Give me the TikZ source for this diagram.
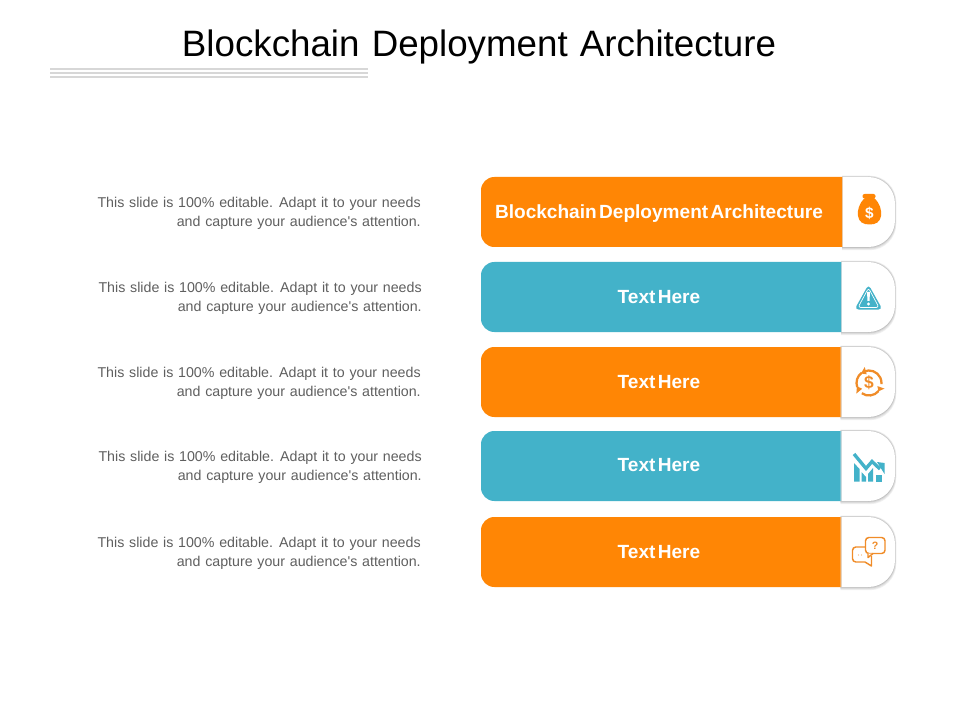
\documentclass[tikz,border=0pt]{standalone}
\usepackage{fontspec}
\setmainfont{Liberation Sans}
\newfontfamily\bodyfont{Liberation Sans}
\newfontfamily\titlefont[WordSpace=1.2]{Liberation Sans}
\newfontfamily\barfont[WordSpace=0.45]{Liberation Sans Bold}
\definecolor{barorange}{RGB}{255,134,5}
\definecolor{barteal}{RGB}{67,178,201}
\definecolor{iconorange}{RGB}{240,140,40}
\definecolor{bodygrey}{RGB}{95,95,95}
\definecolor{rulegrey}{RGB}{215,215,215}
\tikzset{
  x=0.75pt,y=-0.75pt,
  titletext/.style={font=\titlefont\fontsize{27.55pt}{32pt}\selectfont,text=black,inner sep=0pt},
  bodytext/.style={font=\bodyfont\fontsize{10.67pt}{14.25pt}\selectfont,text=bodygrey,align=right,anchor=east,inner sep=0pt},
  bartext/.style={font=\barfont\fontsize{14.3pt}{16pt}\selectfont,text=white,inner sep=0pt},
  ruleline/.style={draw=rulegrey,line width=1.6pt},
  cardshape/.style={rounded corners=20pt},
  barshape/.style={rounded corners=10pt},
}
\newcommand{\cardrow}[6]{% top, split x, colour, label, body right x, label y
  \foreach \o/\g in {3.2/6,2.4/10,1.6/16,0.8/24}{
    \fill[black!\g!white] (#2,#1-\o*0.4) [cardshape] -- (895+\o*0.4,#1-\o*0.4) -- (895+\o*0.4,#1+70+\o) [sharp corners] -- (#2,#1+70+\o) -- cycle;
  }
  \fill[white] (#2,#1) [cardshape] -- (895,#1) -- (895,#1+70) [sharp corners] -- (#2,#1+70) -- cycle;
  \fill[#3!60!black,opacity=.25] (#2,#1) rectangle (#2+1,#1+70);
  \fill[#3] (#2,#1) [barshape] -- (481,#1) -- (481,#1+70) [sharp corners] -- (#2,#1+70) -- cycle;
  \node[bartext] at (659,#6) {#4};
  \node[bodytext] at (#5,#1+36.5) {This slide is 100\% editable. Adapt it to your needs\\and capture your audience's attention.};
}
\begin{document}
\begin{tikzpicture}
\useasboundingbox (0,0) rectangle (960,720);
\fill[white] (0,0) rectangle (960,720);
\node[titletext] (title) at (479,47) {Blockchain Deployment Architecture};
\foreach \yy in {69,73,77}{\draw[ruleline] (50,\yy) -- (368,\yy);}
\cardrow{177}{842}{barorange}{Blockchain Deployment Architecture}{421}{214}
\cardrow{262}{841}{barteal}{Text Here}{422}{297}
\cardrow{347}{840.5}{barorange}{Text Here}{421}{382}
\cardrow{431}{840.5}{barteal}{Text Here}{422}{465}
\cardrow{517}{840.5}{barorange}{Text Here}{421}{552}

% money bag
\fill[barorange,rounded corners=1.5] (862.5,194) rectangle (875.5,198.5);
\fill[barorange] (865,198) .. controls (859,203) and (857,211) .. (858,216) .. controls (859,222) and (863,224.5) .. (869.5,224.5) .. controls (876,224.5) and (880,222) .. (881,216) .. controls (882,211) and (880,203) .. (874,198) -- cycle;
\node[font=\bfseries\fontsize{11.5pt}{12pt}\selectfont,text=white,inner sep=0pt] (bagsign) at (869.5,213) {\$};

% warning triangle
\fill[barteal,rounded corners=3] (868.5,284.5) -- (882.5,309.5) -- (854.5,309.5) -- cycle;
\draw[white,line width=.5pt,rounded corners=2] (868.5,288) -- (879,307.5) -- (858,307.5) -- cycle;
\fill[white] (867,292) -- (870,292) -- (869.5,301) -- (867.5,301) -- cycle;
\fill[white] (868.5,304) circle[radius=1.6];

% cycle dollar
\begin{scope}[shift={(869,383)},x=0.75pt,y=0.75pt]
\draw[iconorange,line width=1.7pt] (115:12.5) arc[start angle=115,end angle=-5,radius=12.5];
\draw[iconorange,line width=1.7pt] (-40:12.5) arc[start angle=-40,end angle=-125,radius=12.5];
\draw[iconorange,line width=1.7pt] (-160:12.5) arc[start angle=-160,end angle=-235,radius=12.5];
\fill[iconorange] (105:9) -- (105:16.5) -- (130:12.5) -- cycle;
\fill[iconorange] (-20:9) -- (-20:16.5) -- (-42:12.5) -- cycle;
\fill[iconorange] (-140:9) -- (-140:16.5) -- (-165:12.5) -- cycle;
\end{scope}
\node[font=\bfseries\fontsize{13pt}{12pt}\selectfont,text=iconorange,inner sep=0pt] (cyclesign) at (869,383) {\$};

% chart
\fill[barteal] (854,463) -- (859.5,469) -- (859.5,481.5) -- (854,481.5) -- cycle;
\fill[barteal] (861.5,472) -- (866,477) -- (866,481.5) -- (861.5,481.5) -- cycle;
\fill[barteal] (868,474) -- (873,468) -- (873,481.5) -- (868,481.5) -- cycle;
\fill[barteal] (876,474.5) rectangle (882,481.5);
\draw[barteal,line width=2.5pt] (854,454) -- (866,468.5) -- (872,461.5) -- (880,469);
\fill[barteal] (877,462) -- (884.5,463) -- (884.5,474) -- cycle;

% chat bubbles
\draw[iconorange,line width=1.1pt,rounded corners=2.5] (865,547) -- (852.5,547) -- (852.5,562) -- (865,562);
\draw[iconorange,line width=1.1pt,line join=round] (865,562) -- (871.5,566) -- (871.5,556);
\draw[iconorange,line width=1.1pt,rounded corners=2.5] (865.5,537.5) rectangle (885,553.5);
\draw[iconorange,line width=1.1pt,fill=white,line join=round] (868,553.5) -- (868,557.5) -- (873,553.5);
\node[font=\bfseries\fontsize{8pt}{8pt}\selectfont,text=iconorange,inner sep=0pt] (askmark) at (875,545.5) {?};
\fill[iconorange!70] (858.5,555) circle[radius=.7] (861.5,555) circle[radius=.7];
\end{tikzpicture}
\end{document}
